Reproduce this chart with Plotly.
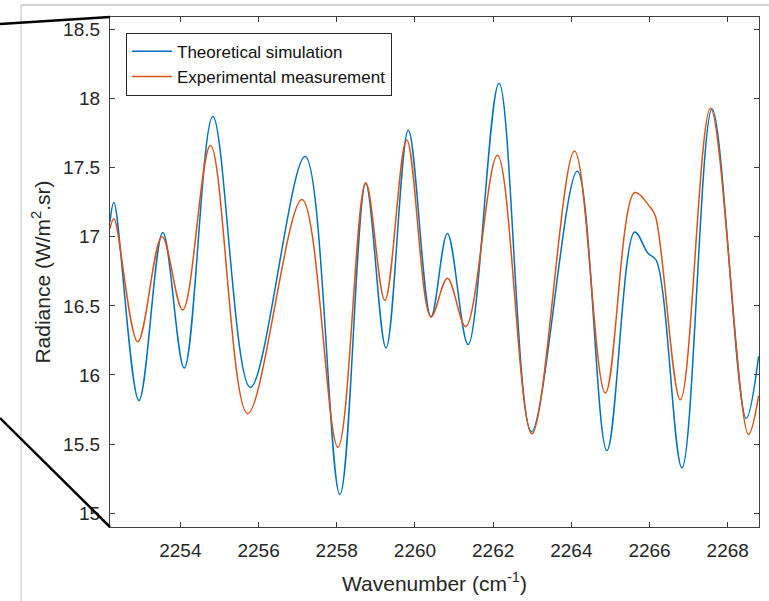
import plotly.graph_objects as go

# Theoretical simulation (blue) – key points
theor_x = [2252.20, 2252.30, 2252.94, 2253.55, 2254.10, 2254.83, 2255.79, 2257.19,
           2258.08, 2258.74, 2259.26, 2259.83, 2260.41, 2260.83, 2261.36, 2262.15,
           2262.98, 2264.15, 2264.91, 2265.62, 2265.96, 2266.17, 2266.83, 2267.60,
           2268.47, 2268.79]
theor_y = [17.11, 17.25, 15.815, 17.03, 16.05, 17.87, 15.91, 17.58,
           15.135, 17.385, 16.196, 17.77, 16.42, 17.023, 16.22, 18.11,
           15.59, 17.474, 15.453, 17.035, 16.88, 16.83, 15.328, 17.925,
           15.685, 16.135]

# Experimental measurement (orange)
exp_x = [2252.20, 2252.30, 2252.91, 2253.53, 2254.06, 2254.77, 2255.72, 2257.11,
         2258.03, 2258.74, 2259.23, 2259.79, 2260.41, 2260.83, 2261.30, 2262.11,
         2262.99, 2264.08, 2264.87, 2265.62, 2266.00, 2266.15, 2266.79, 2267.56,
         2268.53, 2268.79]
exp_y = [17.06, 17.13, 16.24, 17.00, 16.47, 17.66, 15.72, 17.27,
         15.477, 17.39, 16.54, 17.70, 16.42, 16.70, 16.35, 17.59,
         15.574, 17.62, 15.87, 17.32, 17.22, 17.15, 15.82, 17.93,
         15.57, 15.85]

x_ticks = [2254, 2256, 2258, 2260, 2262, 2264, 2266, 2268]
y_ticks = [15, 15.5, 16, 16.5, 17, 17.5, 18, 18.5]
y_tick_text = ["15", "15.5", "16", "16.5", "17", "17.5", "18", "18.5"]

series_names = ["Theoretical simulation", "Experimental measurement"]
series_colors = ["#0072BD", "#D95319"]

FONT = "Liberation Sans, Arial, sans-serif"
AX = "#404040"

fig = go.Figure()
fig.add_trace(go.Scatter(x=theor_x, y=theor_y, mode="lines", name=series_names[0],
                         line=dict(color=series_colors[0], width=1.5, shape="spline", smoothing=1.0)))
fig.add_trace(go.Scatter(x=exp_x, y=exp_y, mode="lines", name=series_names[1],
                         line=dict(color=series_colors[1], width=1.5, shape="spline", smoothing=1.0)))

axis_common = dict(showline=True, linecolor=AX, linewidth=1.3, mirror="ticks",
                   ticks="inside", ticklen=5, tickcolor=AX, tickwidth=1.2,
                   showgrid=False, zeroline=False, automargin=False,
                   tickfont=dict(family=FONT, size=19, color="#262626"))

fig.update_xaxes(range=[2252.2, 2268.8], tickvals=x_ticks,
                 title=dict(text="Wavenumber (cm<sup>-1</sup>)", standoff=16,
                            font=dict(family=FONT, size=21, color="#262626")),
                 ticklabelstandoff=6, **axis_common)
fig.update_yaxes(range=[14.9, 18.59], tickvals=y_ticks, ticktext=y_tick_text,
                 title=dict(text="Radiance (W/m<sup>2</sup>.sr)", standoff=6,
                            font=dict(family=FONT, size=21, color="#262626")),
                 ticklabelstandoff=5, **axis_common)

# light grey frame and black zoom-connector lines
fig.add_shape(type="line", xref="paper", yref="paper", x0=-0.137, x1=-0.137, y0=1.0235, y1=-0.2,
              line=dict(color="#d4d4d4", width=1.5))
fig.add_shape(type="line", xref="paper", yref="paper", x0=-0.137, x1=1.1, y0=1.0235, y1=1.0235,
              line=dict(color="#c4c4c4", width=1.5))
fig.add_shape(type="line", xref="paper", yref="paper", x0=-0.1695, y0=0.9863, x1=0, y1=1,
              line=dict(color="black", width=2.5))
fig.add_shape(type="line", xref="paper", yref="paper", x0=-0.1695, y0=0.2137, x1=0, y1=0,
              line=dict(color="black", width=2.5))

fig.update_layout(
    width=769, height=601,
    margin=dict(l=110, r=10, t=17, b=74),
    paper_bgcolor="white", plot_bgcolor="white",
    showlegend=True,
    legend=dict(x=0.0247, y=0.969, xanchor="left", yanchor="top",
                bordercolor="#262626", borderwidth=1, bgcolor="white",
                font=dict(family=FONT, size=17, color="#111111"),
                tracegroupgap=0, itemwidth=40),
)

fig.write_html("out.html", config={"displayModeBar": False},
               post_script="document.body.style.margin='0';document.body.style.overflow='hidden';")
